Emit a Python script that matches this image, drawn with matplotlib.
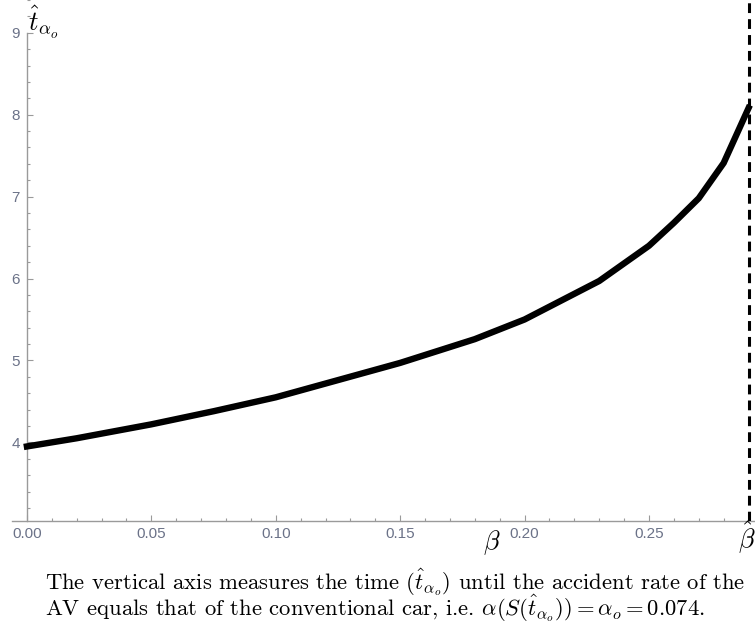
import matplotlib
matplotlib.use("Agg")
import matplotlib.pyplot as plt
from matplotlib.ticker import MultipleLocator, FormatStrFormatter

plt.rcParams['mathtext.fontset'] = 'cm'

# time until AV accident rate equals that of conventional car, vs beta
beta = [0.00, 0.02, 0.05, 0.075, 0.10, 0.125, 0.15, 0.18, 0.20, 0.23, 0.25, 0.26, 0.27, 0.28, 0.29]
t_hat = [3.95, 4.05, 4.22, 4.38, 4.55, 4.76, 4.97, 5.26, 5.50, 5.97, 6.40, 6.68, 6.98, 7.41, 8.08]
beta_hat = 0.29

x_ticks = [0.00, 0.05, 0.10, 0.15, 0.20, 0.25]
y_ticks = [4, 5, 6, 7, 8, 9]

axis_col = '#9a9a9a'
label_col = '#6b7288'

fig = plt.figure(figsize=(7.55, 6.26), dpi=100)
ax = fig.add_axes([12 / 755, 105 / 626, 743 / 755, 521 / 626])

ax.plot(beta, t_hat, color='black', lw=4.6, solid_joinstyle='miter', zorder=3)
ax.axvline(beta_hat, color='black', lw=2.2, linestyle=(0, (3.2, 2.0)), zorder=4)

ax.set_xlim(-0.006, 0.2926)
ax.set_ylim(3.04, 9.40)

for side in ('top', 'right'):
    ax.spines[side].set_visible(False)
ax.spines['left'].set_position(('data', 0.0))
ax.spines['left'].set_bounds(3.04, 9.0)
for side in ('left', 'bottom'):
    ax.spines[side].set_color(axis_col)
    ax.spines[side].set_linewidth(1.0)

ax.set_xticks(x_ticks)
ax.set_yticks(y_ticks)
ax.xaxis.set_major_formatter(FormatStrFormatter('%.2f'))
ax.yaxis.set_major_formatter(FormatStrFormatter('%d'))
ax.xaxis.set_minor_locator(MultipleLocator(0.01))
ax.yaxis.set_minor_locator(MultipleLocator(0.2))
ax.tick_params(which='both', direction='in', color=axis_col, width=0.8,
               labelcolor=label_col, labelsize=11, labelfontfamily='Liberation Sans')
ax.tick_params(which='major', length=4.5, pad=4)
ax.tick_params(which='minor', length=2.5)
ax.tick_params(axis='y', pad=5)

# axis symbols
ax.text(0.187, 2.78, r'$\beta$', fontsize=19, ha='center', va='center')
ax.text(0.2893, 2.83, r'$\hat{\beta}$', fontsize=19, ha='center', va='center')
ax.text(0.0065, 9.12, r'$\hat{t}_{\alpha_o}$', fontsize=19, ha='center', va='center')

# caption below the plot
fig.text(45 / 755, 1 - 582 / 626,
         r'The vertical axis measures the time ($\hat{t}_{\alpha_o}$) until the accident rate of the',
         fontsize=16.3, family='cmr10', va='center', ha='left')
fig.text(45 / 755, 1 - 608 / 626,
         r'AV equals that of the conventional car, i.e. $\alpha(S(\hat{t}_{\alpha_o})) = \alpha_o = 0.074.$',
         fontsize=16.3, family='cmr10', va='center', ha='left')

fig.savefig('out.png', dpi=100)
